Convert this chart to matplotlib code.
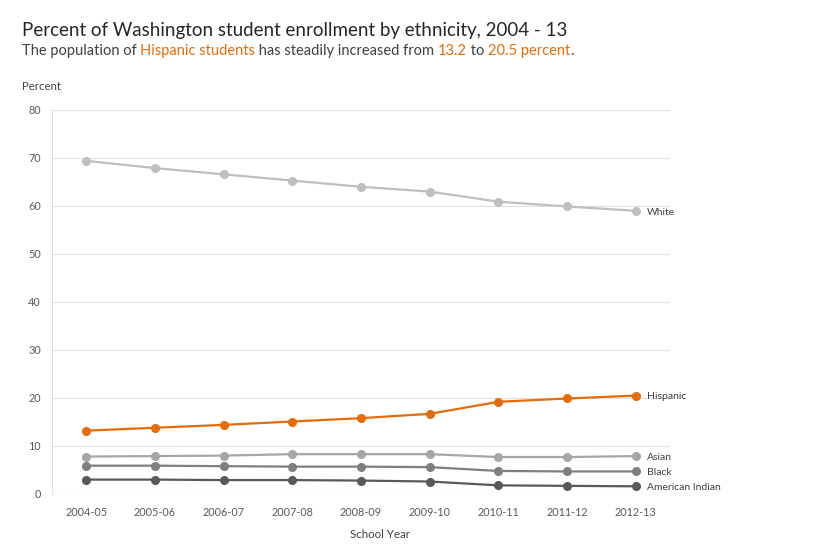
import matplotlib
matplotlib.use("Agg")
import matplotlib.pyplot as plt

years = ["2004-05", "2005-06", "2006-07", "2007-08", "2008-09", "2009-10", "2010-11", "2011-12", "2012-13"]
white = [69.4, 67.9, 66.6, 65.3, 64.0, 63.0, 60.9, 59.9, 59.0]
hispanic = [13.2, 13.8, 14.4, 15.1, 15.8, 16.7, 19.2, 19.9, 20.5]
asian = [7.8, 7.9, 8.0, 8.3, 8.3, 8.3, 7.7, 7.7, 7.9]
black = [5.9, 5.9, 5.8, 5.7, 5.7, 5.6, 4.8, 4.7, 4.7]
american_indian = [3.0, 3.0, 2.9, 2.9, 2.8, 2.6, 1.8, 1.7, 1.6]
series_names = ["White", "Hispanic", "Asian", "Black", "American Indian"]
series_values = [white, hispanic, asian, black, american_indian]
series_colors = ["#bfbfbf", "#e46c0a", "#a6a6a6", "#7f7f7f", "#595959"]
yticks = [0, 10, 20, 30, 40, 50, 60, 70, 80]

FONT = "Lato"
plt.rcParams["font.family"] = [FONT, "DejaVu Sans"]

fig = plt.figure(figsize=(8.4, 5.49), dpi=100)
ax = fig.add_axes([52/840, 55/549, (670-52)/840, (439-55)/549])

x = list(range(len(years)))
for name, vals, col in zip(series_names, series_values, series_colors):
    ax.plot(x, vals, color=col, lw=1.6, marker="o", ms=5.5, zorder=3)
    ax.annotate(name, (x[-1], vals[-1]), xytext=(8, -1), textcoords="offset points",
                va="center", ha="left", fontsize=7.5, color="#404040")

ax.set_xlim(-0.5, 8.5)
ax.set_ylim(0, 80)
ax.set_yticks(yticks)
ax.set_xticks(x)
ax.set_xticklabels(years)
ax.grid(axis="y", color="#e0e0e0", lw=0.8)
ax.set_axisbelow(True)
for s in ["top", "right", "bottom"]:
    ax.spines[s].set_visible(False)
ax.spines["left"].set_color("#e0e0e0")
ax.tick_params(axis="both", length=0, labelsize=7.8, labelcolor="#595959")
ax.tick_params(axis="y", pad=8)
ax.tick_params(axis="x", pad=9)
ax.set_xlabel("School Year", fontsize=8.3, color="#404040", labelpad=11)
ax.xaxis.set_label_coords((380-52)/618, -0.09)

fig.text(22/840, 1 - 87/549, "Percent", fontsize=8.2, color="#404040", va="center", ha="left")
fig.text(22/840, 1 - 36/549, "Percent of Washington student enrollment by ethnicity, 2004 - 13",
         fontsize=13.5, color="#262626", va="baseline", ha="left")

# subtitle with coloured segments
pieces = [("The population of ", "#404040"), ("Hispanic students", "#e46c0a"),
          (" has steadily increased from ", "#404040"), ("13.2", "#e46c0a"),
          (" to ", "#404040"), ("20.5 percent", "#e46c0a"), (".", "#404040")]
fig.canvas.draw()
renderer = fig.canvas.get_renderer()
xpos = 22/840
for txt, col in pieces:
    t = fig.text(xpos, 1 - 55/549, txt, fontsize=10.5, color=col, va="baseline", ha="left")
    bb = t.get_window_extent(renderer=renderer)
    xpos += bb.width / 840

fig.savefig("out.png", dpi=100, facecolor="white")
